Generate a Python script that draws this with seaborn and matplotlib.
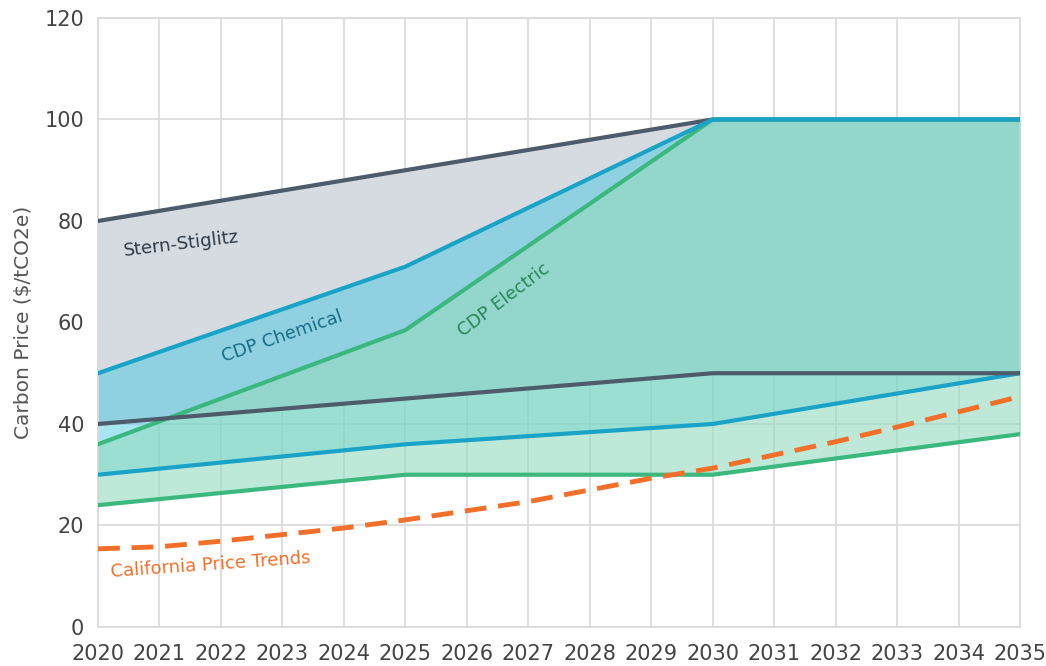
import numpy as np
import pandas as pd
import matplotlib
matplotlib.use("Agg")
import matplotlib.pyplot as plt
import seaborn as sns

# scenario bands, read at the break years
key_years = [2020, 2025, 2030, 2035]
stern_hi = [80, 90, 100, 100]
stern_lo = [40, 45, 50, 50]
chem_hi = [50, 71, 100, 100]
chem_lo = [30, 36, 40, 50]
elec_hi = [36, 58.5, 100, 100]
elec_lo = [24, 30, 30, 38]

# California price trend, yearly
ca_years = list(range(2020, 2036))
ca_price = [15.4, 15.8, 16.9, 18.2, 19.5, 21.1, 22.9, 24.7, 27.0, 29.3,
            31.3, 33.9, 36.5, 39.4, 42.4, 45.4]

year_ticks = list(range(2020, 2036))
price_ticks = [0, 20, 40, 60, 80, 100, 120]

sns.set_theme(style="whitegrid")
plt.rcParams['font.family'] = ['DejaVu Sans']

fig = plt.figure(figsize=(10.46, 6.66), dpi=100)
ax = fig.add_axes([0.0937, 0.0586, 0.8815, 0.9144])

# fills (grey -> blue -> green, stacked translucently)
ax.fill_between(key_years, stern_lo, stern_hi, color="#d5dbe1", lw=0, zorder=1)
ax.fill_between(key_years, chem_lo, chem_hi, color="#3cc6e2", alpha=0.45, lw=0, zorder=2)
ax.fill_between(key_years, elec_lo, elec_hi, color="#94dbbf", alpha=0.6, lw=0, zorder=3)

bands = pd.DataFrame({
    "year": key_years * 6,
    "price": stern_hi + elec_hi + elec_lo + chem_hi + chem_lo + stern_lo,
    "line": (["stern_hi"] * 4 + ["elec_hi"] * 4 + ["elec_lo"] * 4
             + ["chem_hi"] * 4 + ["chem_lo"] * 4 + ["stern_lo"] * 4),
})
line_colors = {"stern_hi": "#4d5b6a", "stern_lo": "#4d5b6a",
               "chem_hi": "#19a3c7", "chem_lo": "#19a3c7",
               "elec_hi": "#3bb87e", "elec_lo": "#3bb87e"}
for i, (name, grp) in enumerate(bands.groupby("line", sort=False)):
    sns.lineplot(data=grp, x="year", y="price", color=line_colors[name],
                 lw=3, ax=ax, legend=False, zorder=5 + i)

ca = pd.DataFrame({"year": ca_years, "price": ca_price})
sns.lineplot(data=ca, x="year", y="price", color="#f26f2a", lw=3.5,
             dashes=False, ax=ax, legend=False, zorder=20)
ax.lines[-1].set_dashes((4.5, 2.4))

# labels on the bands
ax.text(2020.4, 75.5, "Stern-Stiglitz", color="#2e3b48", fontsize=13,
        rotation=7, ha="left", va="center", zorder=30)
ax.text(2023.0, 57.2, "CDP Chemical", color="#176d86", fontsize=13,
        rotation=19, ha="center", va="center", zorder=30)
ax.text(2026.6, 64.5, "CDP Electric", color="#2a8758", fontsize=13,
        rotation=37, ha="center", va="center", zorder=30)
ax.text(2020.2, 12.3, "California Price Trends", color="#f26f2a", fontsize=13,
        rotation=4, ha="left", va="center", zorder=30)

ax.set_xlim(2020, 2035)
ax.set_ylim(0, 120)
ax.set_xticks(year_ticks)
ax.set_yticks(price_ticks)
ax.grid(True, color="#d9d9d9", lw=1.2)
ax.set_axisbelow(True)
for s in ax.spines.values():
    s.set_color("#d9d9d9")
    s.set_linewidth(1.2)
ax.tick_params(length=0, labelsize=15, colors="#444444")
ax.tick_params(axis="x", pad=12)
ax.tick_params(axis="y", pad=10)
ax.set_xlabel("")
ax.set_ylabel("Carbon Price (\\$/tCO2e)", fontsize=14.5, color="#555555", labelpad=8)

fig.savefig("out.png", dpi=100)
